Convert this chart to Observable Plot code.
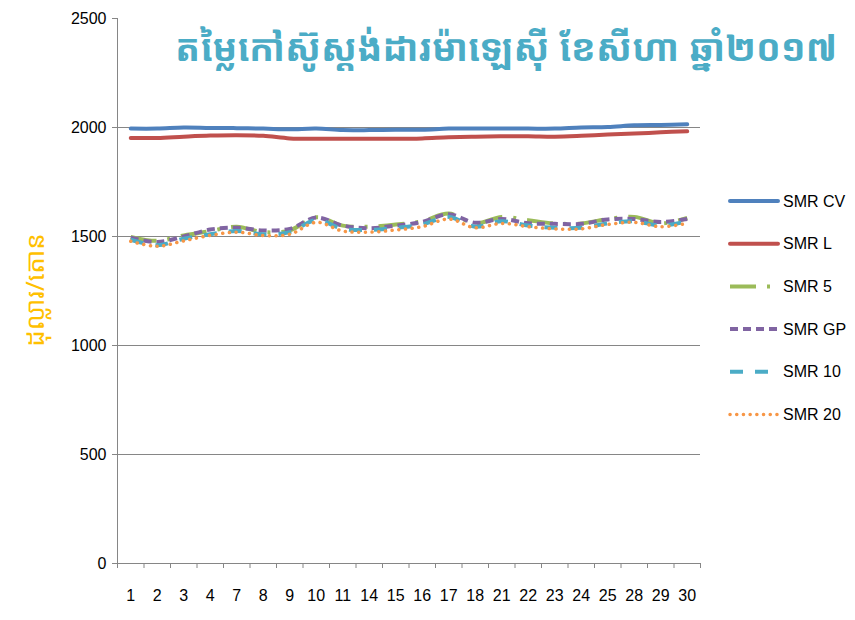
<!DOCTYPE html>
<html>
<head>
<meta charset="utf-8">
<script src="https://cdn.jsdelivr.net/npm/d3@7"></script>
<script src="https://cdn.jsdelivr.net/npm/@observablehq/plot@0.6"></script>
<style>
  body { margin: 0; background: #fff; }
  #wrap { position: relative; width: 855px; height: 620px; font-family: "Liberation Sans Narrow", "Arial Narrow", "Liberation Sans", sans-serif; }
  #title { position: absolute; left: 175px; width: 660px; top: 21px; text-align: center; color: #4BACC6; font-size: 37px; font-weight: bold; font-family: "Khmer OS Muol Light", "Noto Sans Khmer", "Khmer OS", sans-serif; white-space: nowrap; }
  #ylabel { position: absolute; left: 34px; top: 290px; transform: translate(-50%, -50%) rotate(-90deg); color: #FFC000; font-size: 26px; white-space: nowrap; font-family: "Noto Sans Khmer", "Khmer OS", sans-serif; }
  #legend { position: absolute; left: 728px; top: 186px; }
</style>
</head>
<body>
<div id="wrap">
  <div id="chart"></div>
  <div id="title">តម្លៃកៅស៊ូស្តង់ដារម៉ាឡេស៊ី ខែសីហា ឆ្នាំ២០១៧</div>
  <div id="ylabel">ដុល្លារ/តោន</div>
  <div id="legend"></div>
</div>
<script>
// ---- data ----
const days = ["1","2","3","4","7","8","9","10","11","14","15","16","17","18","21","22","23","24","25","28","29","30"];
const smrCV = [1995,1995,2000,1998,1997,1995,1992,1995,1988,1988,1990,1990,1995,1995,1995,1995,1995,2000,2002,2010,2012,2015];
const smrL  = [1952,1952,1958,1963,1965,1962,1950,1948,1948,1948,1948,1950,1955,1958,1960,1960,1958,1962,1968,1972,1978,1983];
const smr5  = [1498,1480,1505,1525,1545,1520,1528,1588,1550,1545,1555,1570,1605,1560,1590,1575,1560,1560,1580,1590,1560,1585];
const smrGP = [1494,1475,1500,1532,1540,1528,1535,1587,1550,1538,1550,1567,1602,1563,1580,1561,1558,1558,1578,1580,1566,1580];
const smr10 = [1485,1460,1490,1510,1525,1510,1520,1575,1535,1530,1540,1555,1590,1545,1570,1550,1540,1540,1560,1570,1550,1570];
const smr20 = [1478,1455,1480,1505,1520,1505,1510,1565,1525,1520,1530,1545,1580,1540,1560,1545,1535,1535,1555,1565,1545,1560];
const seriesNames = ["SMR CV","SMR L","SMR 5","SMR GP","SMR 10","SMR 20"];
const yTicks = [0,500,1000,1500,2000,2500];
const gridTicks = [500,1000,1500,2000];

// ---- styles ----
const styles = {
  "SMR CV": {stroke: "#4F81BD", width: 4, dash: null, cap: "round"},
  "SMR L":  {stroke: "#C0504D", width: 4, dash: null, cap: "round"},
  "SMR 5":  {stroke: "#9BBB59", width: 4, dash: "26,11,3,11", cap: "butt"},
  "SMR GP": {stroke: "#8064A2", width: 4, dash: "8,5", cap: "butt"},
  "SMR 10": {stroke: "#4BACC6", width: 4, dash: "13,12", cap: "butt"},
  "SMR 20": {stroke: "#F79646", width: 3.5, dash: "0.1,6.6", cap: "round"}
};

const values = {"SMR CV": smrCV, "SMR L": smrL, "SMR 5": smr5, "SMR GP": smrGP, "SMR 10": smr10, "SMR 20": smr20};
const table = seriesNames.map(name => days.map((d, i) => ({day: d, value: values[name][i], series: name})));

const step = (855 - 117 - 155) / days.length;
const first = () => days[0];

const lineMarks = table.map(rows => {
  const s = styles[rows[0].series];
  return Plot.line(rows, {
    x: "day", y: "value", stroke: s.stroke, strokeWidth: s.width,
    strokeDasharray: s.dash, strokeLinecap: s.cap, curve: "catmull-rom"
  });
});

const plot = Plot.plot({
  width: 855, height: 620,
  marginLeft: 117, marginRight: 155, marginTop: 18, marginBottom: 57,
  style: {fontFamily: "'Liberation Sans Narrow', 'Arial Narrow', sans-serif", fontSize: "16px", color: "black", background: "white"},
  x: {type: "point", domain: days, padding: 0.5, round: false, axis: null},
  y: {domain: [0, 2500], axis: null},
  marks: [
    Plot.ruleY(gridTicks, {stroke: "#868686", strokeWidth: 1}),
    Plot.ruleY([0], {stroke: "#868686", strokeWidth: 1}),
    Plot.ruleX(days, {x: d => d, y1: 0, y2: -23, dx: -step / 2, stroke: "#868686"}),
    Plot.ruleX(days.slice(-1), {x: d => d, y1: 0, y2: -23, dx: step / 2, stroke: "#868686"}),
    Plot.ruleX(days.slice(0, 1), {x: d => d, y1: 0, y2: 2500, dx: -step / 2, stroke: "#868686"}),
    Plot.ruleY(yTicks, {y: d => d, x1: first, x2: first, dx: -step / 2, insetLeft: -5, stroke: "#868686"}),
    Plot.text(yTicks, {y: d => d, x: first, dx: -step / 2 - 11, text: d => String(d), textAnchor: "end", fill: "black", fontSize: 16}),
    Plot.text(days, {x: d => d, y: () => 0, dy: 32, text: d => d, fill: "black", fontSize: 16}),
    ...lineMarks
  ]
});
document.getElementById("chart").appendChild(plot);

// ---- legend ----
const leg = d3.select("#legend").append("svg").attr("width", 125).attr("height", 250)
  .style("font-family", "'Liberation Sans Narrow', 'Arial Narrow', sans-serif").style("font-size", "16px");
seriesNames.forEach((name, i) => {
  const s = styles[name];
  const y = 15 + i * 42.7;
  leg.append("line").attr("x1", 2).attr("x2", 50).attr("y1", y).attr("y2", y)
    .attr("stroke", s.stroke).attr("stroke-width", s.width)
    .attr("stroke-dasharray", s.dash).attr("stroke-linecap", s.cap);
  leg.append("text").attr("x", 55).attr("y", y).attr("dy", "0.35em").attr("fill", "black").text(name);
});
</script>
</body>
</html>
